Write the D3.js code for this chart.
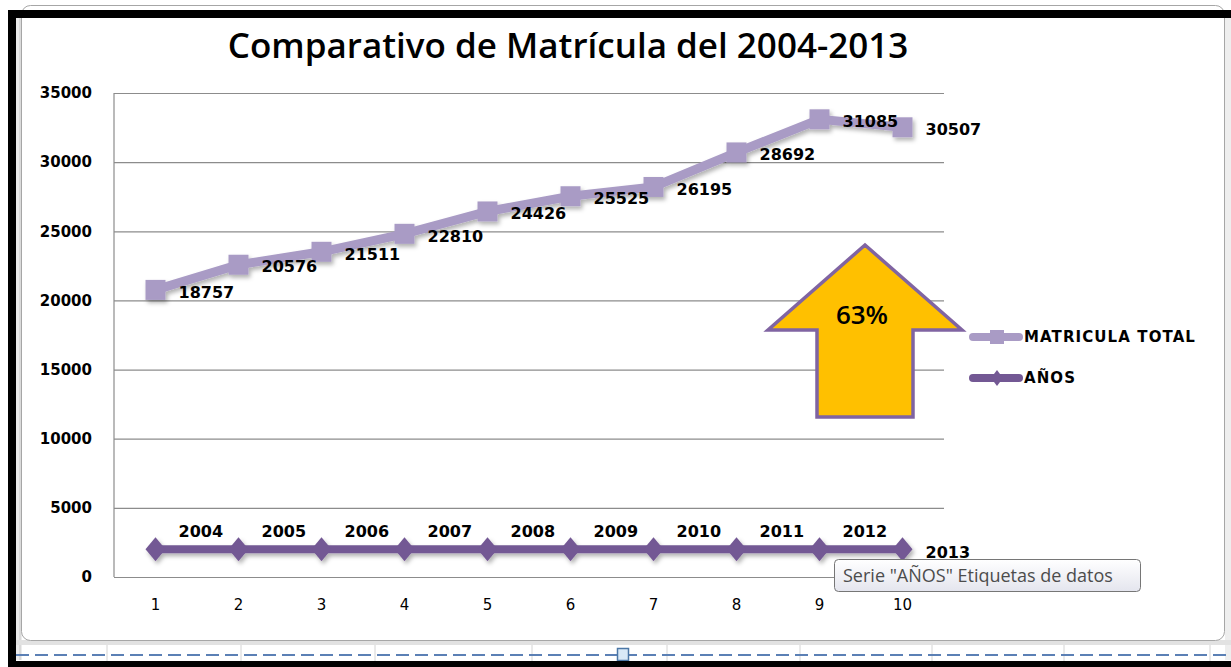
<!DOCTYPE html>
<html>
<head>
<meta charset="utf-8">
<script src="https://cdn.jsdelivr.net/npm/d3@7"></script>
<style>
  body { margin: 0; background: #fff; }
  svg { display: block; }
</style>
</head>
<body>
<div id="container"></div>
<script>
// categories on the x axis
var categories = ["1", "2", "3", "4", "5", "6", "7", "8", "9", "10"];
// series "AÑOS"
var years = [2004, 2005, 2006, 2007, 2008, 2009, 2010, 2011, 2012, 2013];
// series "MATRICULA TOTAL" (stacked on top of AÑOS in the original)
var matricula = [18757, 20576, 21511, 22810, 24426, 25525, 26195, 28692, 31085, 30507];
// y axis ticks
var yTicks = [0, 5000, 10000, 15000, 20000, 25000, 30000, 35000];

var width = 1231;
var height = 667;

var colorTotal = "#a99bc5";
var colorYears = "#735894";

// plot area (don't call it "top", window.top is read only)
var plotLeft = 114, plotRight = 944, plotTop = 93, plotBottom = 577;

var svg = d3.select("#container")
    .append("svg")
    .attr("width", width)
    .attr("height", height);

var defs = svg.append("defs");
var shadow = defs.append("filter")
    .attr("id", "shadow")
    .attr("x", "-20%").attr("y", "-50%")
    .attr("width", "140%").attr("height", "200%");
shadow.append("feDropShadow")
    .attr("dx", 2).attr("dy", 3)
    .attr("stdDeviation", 2)
    .attr("flood-color", "#000")
    .attr("flood-opacity", 0.3);

var grad = defs.append("linearGradient")
    .attr("id", "tipgrad")
    .attr("x1", 0).attr("y1", 0).attr("x2", 0).attr("y2", 1);
grad.append("stop").attr("offset", "0%").attr("stop-color", "#ffffff");
grad.append("stop").attr("offset", "100%").attr("stop-color", "#e4e5ee");

//background + spreadsheet bits
svg.append("rect").attr("width", width).attr("height", height).attr("fill", "#fff");
svg.append("rect").attr("x", 1225).attr("y", 10).attr("width", 6).attr("height", 650).attr("fill", "#eeeeee");
svg.append("rect").attr("x", 16).attr("y", 10).attr("width", 6).attr("height", 650).attr("fill", "#ececec");
svg.append("line").attr("x1", 20).attr("x2", 20).attr("y1", 10).attr("y2", 660)
    .attr("stroke", "#c8c8c8");

[107, 241, 375, 532, 667, 800, 932, 1064, 1210].forEach(function (cx) {
    svg.append("line")
        .attr("x1", cx).attr("x2", cx)
        .attr("y1", 640).attr("y2", 662)
        .attr("stroke", "#d4d4d4");
});
svg.append("rect").attr("x", 16).attr("y", 640).attr("width", 1215).attr("height", 5).attr("fill", "#e2e2e2");

//chart area
svg.append("rect")
    .attr("x", 21.5).attr("y", 5.5)
    .attr("width", 1203).attr("height", 635)
    .attr("rx", 9)
    .attr("fill", "#fff")
    .attr("stroke", "#a6a6a6");

//page break line
svg.append("line")
    .attr("x1", 16).attr("x2", width)
    .attr("y1", 655).attr("y2", 655)
    .attr("stroke", "#5b80b5")
    .attr("stroke-width", 2)
    .attr("stroke-dasharray", "13 6");
svg.append("rect")
    .attr("x", 617.5).attr("y", 648.5)
    .attr("width", 11).attr("height", 12)
    .attr("fill", "#d9e9f7")
    .attr("stroke", "#4c77a6")
    .attr("stroke-width", 1.5);

//black frame
svg.append("rect").attr("x", 8).attr("y", 10).attr("width", width - 8).attr("height", 8).attr("fill", "#000");
svg.append("rect").attr("x", 8).attr("y", 10).attr("width", 8).attr("height", height - 10).attr("fill", "#000");
svg.append("rect").attr("x", 8).attr("y", 661).attr("width", width - 8).attr("height", 6).attr("fill", "#000");

//title
svg.append("text")
    .attr("x", 568)
    .attr("y", 58)
    .attr("text-anchor", "middle")
    .attr("font-family", "'Open Sans', sans-serif")
    .attr("font-size", 35)
    .attr("font-weight", 600)
    .attr("fill", "#000")
    .text("Comparativo de Matrícula del 2004-2013");

//scales
var x = d3.scaleBand()
    .domain(categories)
    .range([plotLeft, plotRight])
    .padding(0);

var y = d3.scaleLinear()
    .domain([0, 35000])
    .range([plotBottom, plotTop]);

function cx(i) {
    return x(categories[i]) + x.bandwidth() / 2;
}

//gridlines and y axis
var yAxis = svg.append("g")
    .attr("transform", "translate(" + plotLeft + ",0)")
    .call(d3.axisLeft(y)
        .tickValues(yTicks)
        .tickSize(-(plotRight - plotLeft))
        .tickPadding(22)
        .tickFormat(d3.format("d")));
yAxis.select(".domain").remove();
yAxis.selectAll(".tick line")
    .attr("stroke", "#8c8c8c")
    .attr("stroke-width", 1.2);
yAxis.selectAll(".tick text")
    .attr("font-family", "'DejaVu Sans', sans-serif")
    .attr("font-weight", "bold")
    .attr("font-size", 15)
    .attr("fill", "#000");

svg.append("line")
    .attr("x1", plotLeft).attr("x2", plotLeft)
    .attr("y1", plotTop).attr("y2", plotBottom)
    .attr("stroke", "#8c8c8c")
    .attr("stroke-width", 1.2);

//x axis
var xAxis = svg.append("g")
    .attr("transform", "translate(0," + plotBottom + ")")
    .call(d3.axisBottom(x).tickSize(0).tickPadding(22));
xAxis.select(".domain").remove();
xAxis.selectAll(".tick text")
    .attr("font-family", "'DejaVu Sans', sans-serif")
    .attr("font-size", 15)
    .attr("fill", "#000");

//stacked values
var rows = categories.map(function (c, i) {
    return { cat: c, anos: years[i], matricula: matricula[i] };
});
var stacked = d3.stack().keys(["anos", "matricula"])(rows);
var anosLayer = stacked[0];
var totalLayer = stacked[1];

var line = d3.line()
    .x(function (d, i) { return cx(i); })
    .y(function (d) { return y(d[1]); });

//AÑOS series
var gYears = svg.append("g").attr("filter", "url(#shadow)");
gYears.append("path")
    .datum(anosLayer)
    .attr("d", line)
    .attr("fill", "none")
    .attr("stroke", colorYears)
    .attr("stroke-width", 8);
gYears.selectAll(".diamond")
    .data(anosLayer)
    .enter()
    .append("path")
    .attr("class", "diamond")
    .attr("d", "M0,-12L10,0L0,12L-10,0Z")
    .attr("transform", function (d, i) { return "translate(" + cx(i) + "," + y(d[1]) + ")"; })
    .attr("fill", colorYears);

//MATRICULA TOTAL series
var gTotal = svg.append("g").attr("filter", "url(#shadow)");
gTotal.append("path")
    .datum(totalLayer)
    .attr("d", line)
    .attr("fill", "none")
    .attr("stroke", colorTotal)
    .attr("stroke-width", 9);
gTotal.selectAll(".square")
    .data(totalLayer)
    .enter()
    .append("rect")
    .attr("class", "square")
    .attr("x", function (d, i) { return cx(i) - 10; })
    .attr("y", function (d) { return y(d[1]) - 10; })
    .attr("width", 20)
    .attr("height", 20)
    .attr("fill", colorTotal);

//data labels
svg.selectAll(".lblTotal")
    .data(totalLayer)
    .enter()
    .append("text")
    .attr("class", "lblTotal")
    .attr("x", function (d, i) { return cx(i) + 23; })
    .attr("y", function (d) { return y(d[1]) + 2; })
    .attr("dy", "0.36em")
    .attr("font-family", "'DejaVu Sans', sans-serif")
    .attr("font-weight", "bold")
    .attr("font-size", 16)
    .attr("fill", "#000")
    .text(function (d) { return d.data.matricula; });

svg.selectAll(".lblYears")
    .data(anosLayer)
    .enter()
    .append("text")
    .attr("class", "lblYears")
    .attr("x", function (d, i) { return cx(i) + 23; })
    .attr("y", function (d, i) { return y(d[1]) + (i == years.length - 1 ? 3 : -18); })
    .attr("dy", "0.36em")
    .attr("font-family", "'DejaVu Sans', sans-serif")
    .attr("font-weight", "bold")
    .attr("font-size", 16)
    .attr("fill", "#000")
    .text(function (d) { return d.data.anos; });

//big arrow
var arrow = [[865, 245], [962, 330], [913, 330], [913, 417], [817, 417], [817, 330], [768, 330]];
svg.append("path")
    .attr("d", "M" + arrow.join("L") + "Z")
    .attr("fill", "#ffc000")
    .attr("stroke", "#8064a2")
    .attr("stroke-width", 3.5)
    .attr("stroke-linejoin", "miter");
svg.append("text")
    .attr("x", 862)
    .attr("y", 324)
    .attr("text-anchor", "middle")
    .attr("font-family", "'Open Sans', sans-serif")
    .attr("font-size", 26)
    .attr("font-weight", 600)
    .attr("fill", "#000")
    .text("63%");

//legend
var legendItems = [
    { name: "MATRICULA TOTAL", color: colorTotal, marker: "square", y: 337 },
    { name: "AÑOS", color: colorYears, marker: "diamond", y: 378 }
];
var legend = svg.selectAll(".legend")
    .data(legendItems)
    .enter()
    .append("g")
    .attr("class", "legend")
    .attr("transform", function (d) { return "translate(973," + d.y + ")"; });
legend.append("line")
    .attr("x1", 0).attr("x2", 46)
    .attr("stroke", function (d) { return d.color; })
    .attr("stroke-width", 8)
    .attr("stroke-linecap", "round");
legend.append("path")
    .attr("d", function (d) {
        return d.marker == "square" ? "M17,-7H31V7H17Z" : "M24,-8L30,0L24,8L18,0Z";
    })
    .attr("fill", function (d) { return d.color; });
legend.append("text")
    .attr("x", 51)
    .attr("dy", "0.36em")
    .attr("font-family", "'DejaVu Sans', sans-serif")
    .attr("font-weight", "bold")
    .attr("font-size", 15)
    .attr("letter-spacing", 1.1)
    .attr("fill", "#000")
    .text(function (d) { return d.name; });

//tooltip
svg.append("rect")
    .attr("x", 834.5).attr("y", 559.5)
    .attr("width", 306).attr("height", 32)
    .attr("rx", 4)
    .attr("fill", "url(#tipgrad)")
    .attr("stroke", "#767676");
svg.append("text")
    .attr("x", 843)
    .attr("y", 582)
    .attr("font-family", "'Open Sans', sans-serif")
    .attr("font-size", 18)
    .attr("fill", "#4c4c4c")
    .text("Serie \"AÑOS\" Etiquetas de datos");
</script>
</body>
</html>
